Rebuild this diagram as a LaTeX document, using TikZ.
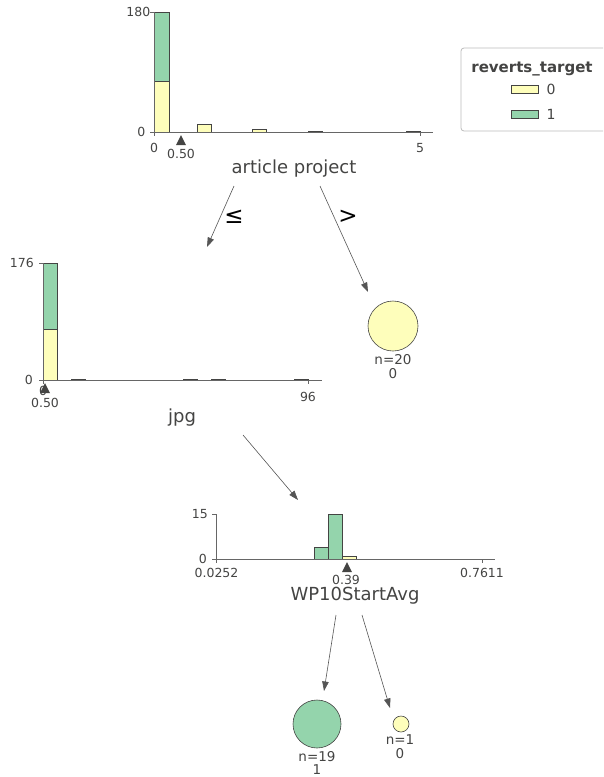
\documentclass[tikz,border=0pt]{standalone}
\usepackage{fontspec}
\setmainfont{DejaVu Sans}
\usetikzlibrary{arrows.meta}
\definecolor{ylw}{HTML}{FEFEBB}
\definecolor{grn}{HTML}{94D4AC}
\definecolor{edgec}{HTML}{444443}
\definecolor{txt}{HTML}{444443}
\definecolor{axisc}{HTML}{666666}
\definecolor{arrc}{HTML}{555555}
\definecolor{legc}{HTML}{BBBBBB}
\begin{document}
\begin{tikzpicture}[x=1pt,y=-1pt,
  hbar/.style={draw=edgec, line width=0.6pt},
  axisline/.style={draw=axisc, line width=0.7pt},
  ticklbl/.style={font=\fontsize{12.5}{13}\selectfont, text=txt, inner sep=0pt},
  featlbl/.style={font=\fontsize{18}{20}\selectfont, text=txt, inner sep=0pt},
  leaflbl/.style={font=\fontsize{13.5}{14}\selectfont, text=txt, inner sep=0pt},
  cmplbl/.style={font=\fontsize{23}{24}\selectfont, text=black, inner sep=0pt},
  edgearrow/.style={draw=arrc, line width=0.6pt, -{Triangle[length=9.5pt,width=6.5pt]}},
  splitmark/.style={fill=edgec, draw=none},
  leafnode/.style={circle, draw=edgec, line width=0.6pt, inner sep=0pt},
]
\useasboundingbox (0,0) rectangle (603,777);

% ---------- top histogram: article project ----------
\draw[hbar, fill=ylw] (154,132) rectangle (169,81);
\draw[hbar, fill=grn] (154,81) rectangle (169,12);
\draw[hbar, fill=ylw] (197,132) rectangle (211,124);
\draw[hbar, fill=ylw] (252,132) rectangle (266,129);
\draw[hbar, fill=ylw] (308,132) rectangle (322,131);
\draw[hbar, fill=ylw] (406,132) rectangle (420,131);
\draw[axisline] (154,12) -- (154,132) -- (433,132);
\draw[axisline] (150,12) -- (154,12);
\draw[axisline] (150,132) -- (154,132);
\draw[axisline] (154,132) -- (154,136);
\draw[axisline] (420,132) -- (420,136);
\node[ticklbl, anchor=east] (t1y1) at (150.5,12) {180};
\node[ticklbl, anchor=east] (t1y0) at (145.5,132) {0};
\node[ticklbl] (t1x0) at (154,148) {0};
\node[ticklbl] (t1x5) at (420,148) {5};
\fill[splitmark] (181,135) -- (186,145) -- (176,145) -- cycle;
\node[ticklbl] (t1split) at (181,153.5) {0.50};
\node[featlbl] (f1) at (294,169) {article project};

% arrows from root
\coordinate (a1s) at (234,186);
\coordinate (a1e) at (207,247);
\coordinate (a2s) at (320,186);
\coordinate (a2e) at (368,292);
\draw[edgearrow] (a1s) -- (a1e);
\draw[edgearrow] (a2s) -- (a2e);
\node[cmplbl] (le) at (234,217) {≤};
\node[cmplbl] (gt) at (348,217) {>};

% leaf n=20
\node[leafnode, fill=ylw, minimum size=50pt] (leaf20) at (393,326) {};
\node[leaflbl] (leaf20n) at (393,360) {n=20};
\node[leaflbl] (leaf20c) at (393,374) {0};

% ---------- jpg histogram ----------
\draw[hbar, fill=ylw] (43,380) rectangle (57,329);
\draw[hbar, fill=grn] (43,329) rectangle (57,263);
\draw[hbar, fill=ylw] (71,380) rectangle (85,379);
\draw[hbar, fill=ylw] (183,380) rectangle (197,379);
\draw[hbar, fill=ylw] (211,380) rectangle (225,379);
\draw[hbar, fill=ylw] (294,380) rectangle (308,379);
\draw[axisline] (43,263) -- (43,380) -- (322,380);
\draw[axisline] (39,263) -- (43,263);
\draw[axisline] (39,380) -- (43,380);
\draw[axisline] (43,380) -- (43,384);
\draw[axisline] (308,380) -- (308,384);
\node[ticklbl, anchor=east] (t2y1) at (34,263) {176};
\node[ticklbl, anchor=east] (t2y0) at (33,380) {0};
\node[ticklbl] (t2x0) at (43,391) {0};
\node[ticklbl] (t2x96) at (308,396.5) {96};
\fill[splitmark] (45,383) -- (50,393) -- (40,393) -- cycle;
\node[ticklbl] (t2split) at (45,402.5) {0.50};
\node[featlbl] (f2) at (182,418) {jpg};

\coordinate (a3s) at (243,435);
\coordinate (a3e) at (298,500);
\draw[edgearrow] (a3s) -- (a3e);

% ---------- WP10StartAvg histogram ----------
\draw[hbar, fill=grn] (314,559) rectangle (328,547);
\draw[hbar, fill=grn] (328,559) rectangle (342,514);
\draw[hbar, fill=ylw] (342,559) rectangle (356,556);
\draw[axisline] (216,514) -- (216,559) -- (495,559);
\draw[axisline] (212,514) -- (216,514);
\draw[axisline] (212,559) -- (216,559);
\draw[axisline] (216,559) -- (216,563);
\draw[axisline] (482,559) -- (482,563);
\node[ticklbl, anchor=east] (t3y1) at (208,514) {15};
\node[ticklbl, anchor=east] (t3y0) at (207,559) {0};
\node[ticklbl] (t3x0) at (216.5,573) {0.0252};
\node[ticklbl] (t3x1) at (482,573) {0.7611};
\fill[splitmark] (347,562) -- (352,572) -- (342,572) -- cycle;
\node[ticklbl] (t3split) at (346,579.5) {0.39};
\node[featlbl] (f3) at (355,596) {WP10StartAvg};

\coordinate (a4s) at (336,615);
\coordinate (a4e) at (324,691);
\coordinate (a5s) at (362,615);
\coordinate (a5e) at (390,708);
\draw[edgearrow] (a4s) -- (a4e);
\draw[edgearrow] (a5s) -- (a5e);

% leaves
\node[leafnode, fill=grn, minimum size=48pt] (leaf19) at (317,724) {};
\node[leaflbl] (leaf19n) at (317,756.5) {n=19};
\node[leaflbl] (leaf19c) at (317,769.5) {1};
\node[leafnode, fill=ylw, minimum size=16pt] (leaf1) at (401,724) {};
\node[leaflbl] (leaf1n) at (400,740) {n=1};
\node[leaflbl] (leaf1c) at (400,753.5) {0};

% ---------- legend ----------
\begin{scope}
\clip (0,0) rectangle (603,777);
\draw[legc, line width=0.8pt, rounded corners=3pt, fill=white] (461,48) rectangle (612,131);
\end{scope}
\node[font=\fontsize{15}{16}\selectfont\bfseries, text=txt, inner sep=0pt] (legtitle) at (532,69) {reverts\_target};
\draw[hbar, fill=ylw] (511,85) rectangle (538.5,93.5);
\draw[hbar, fill=grn] (511,110) rectangle (538.5,118.5);
\node[leaflbl, anchor=west, font=\fontsize{14}{15}\selectfont] (leg0) at (546.5,89) {0};
\node[leaflbl, anchor=west, font=\fontsize{14}{15}\selectfont] (leg1) at (546.5,114) {1};
\end{tikzpicture}
\end{document}
